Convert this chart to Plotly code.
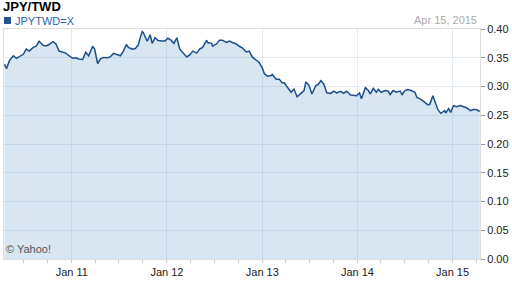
import pandas as pd
import plotly.graph_objects as go

# Decimal-year time stamps and JPY/TWD rate
t_years = [
    2010.292, 2010.313, 2010.344, 2010.385, 2010.417, 2010.448, 2010.490, 2010.521,
    2010.552, 2010.594, 2010.625, 2010.656, 2010.698, 2010.729, 2010.760, 2010.802,
    2010.833, 2010.865, 2010.906, 2010.938, 2010.969, 2011.010, 2011.042, 2011.073,
    2011.115, 2011.146, 2011.177, 2011.219, 2011.240, 2011.271, 2011.302, 2011.333,
    2011.375, 2011.406, 2011.438, 2011.479, 2011.510, 2011.542, 2011.573, 2011.594,
    2011.635, 2011.667, 2011.698, 2011.719, 2011.740, 2011.750, 2011.771, 2011.792,
    2011.823, 2011.844, 2011.875, 2011.906, 2011.948, 2011.979, 2012.010, 2012.042,
    2012.073, 2012.104, 2012.135, 2012.167, 2012.208, 2012.240, 2012.271, 2012.313,
    2012.344, 2012.375, 2012.417, 2012.427, 2012.469, 2012.479, 2012.521, 2012.552,
    2012.583, 2012.625, 2012.656, 2012.688, 2012.729, 2012.760, 2012.792, 2012.833,
    2012.865, 2012.896, 2012.938, 2012.969, 2013.000, 2013.021, 2013.052, 2013.094,
    2013.104, 2013.146, 2013.177, 2013.208, 2013.229, 2013.260, 2013.302, 2013.333,
    2013.365, 2013.406, 2013.438, 2013.458, 2013.490, 2013.521, 2013.563, 2013.583,
    2013.615, 2013.646, 2013.677, 2013.719, 2013.750, 2013.781, 2013.823, 2013.854,
    2013.885, 2013.927, 2013.958, 2013.990, 2014.021, 2014.042, 2014.083, 2014.115,
    2014.135, 2014.167, 2014.198, 2014.219, 2014.250, 2014.292, 2014.323, 2014.344,
    2014.375, 2014.406, 2014.448, 2014.469, 2014.500, 2014.531, 2014.563, 2014.604,
    2014.625, 2014.667, 2014.708, 2014.740, 2014.760, 2014.792, 2014.813, 2014.844,
    2014.875, 2014.917, 2014.927, 2014.958, 2014.979, 2015.010, 2015.042, 2015.083,
    2015.115, 2015.146, 2015.188, 2015.219, 2015.250, 2015.285,
]
rate = [
    0.3385, 0.3310, 0.3450, 0.3535, 0.3490, 0.3520, 0.3560, 0.3650,
    0.3616, 0.3680, 0.3700, 0.3786, 0.3718, 0.3704, 0.3730, 0.3780,
    0.3740, 0.3616, 0.3600, 0.3580, 0.3535, 0.3490, 0.3500, 0.3480,
    0.3470, 0.3597, 0.3535, 0.3700, 0.3650, 0.3400, 0.3480, 0.3506,
    0.3500, 0.3520, 0.3576, 0.3560, 0.3535, 0.3616, 0.3730, 0.3680,
    0.3650, 0.3660, 0.3720, 0.3850, 0.3955, 0.3940, 0.3850, 0.3786,
    0.3900, 0.3750, 0.3850, 0.3800, 0.3790, 0.3790, 0.3840, 0.3806,
    0.3750, 0.3847, 0.3650, 0.3597, 0.3514, 0.3550, 0.3616, 0.3580,
    0.3650, 0.3680, 0.3806, 0.3765, 0.3750, 0.3700, 0.3740, 0.3806,
    0.3806, 0.3765, 0.3790, 0.3765, 0.3740, 0.3700, 0.3670, 0.3600,
    0.3616, 0.3514, 0.3450, 0.3417, 0.3320, 0.3225, 0.3180, 0.3192,
    0.3210, 0.3128, 0.3128, 0.3064, 0.3064, 0.3000, 0.2900, 0.2955,
    0.2820, 0.2880, 0.2930, 0.3080, 0.3020, 0.2870, 0.3020, 0.3030,
    0.3100, 0.3045, 0.2890, 0.2880, 0.2920, 0.2890, 0.2917, 0.2880,
    0.2917, 0.2852, 0.2852, 0.2840, 0.2890, 0.2788, 0.2980, 0.2930,
    0.2870, 0.2967, 0.2900, 0.2948, 0.2900, 0.2930, 0.2917, 0.2860,
    0.2930, 0.2900, 0.2920, 0.2860, 0.2930, 0.2948, 0.2930, 0.2900,
    0.2808, 0.2775, 0.2725, 0.2680, 0.2690, 0.2840, 0.2744, 0.2600,
    0.2533, 0.2580, 0.2538, 0.2615, 0.2550, 0.2667, 0.2648, 0.2667,
    0.2648, 0.2630, 0.2580, 0.2600, 0.2600, 0.2564,
]

y_ticks = [0.00, 0.05, 0.10, 0.15, 0.20, 0.25, 0.30, 0.35, 0.40]


def to_date(y):
    year = int(y)
    start = pd.Timestamp(year=year, month=1, day=1)
    return start + pd.Timedelta(days=(y - year) * 365.25)


dates = [to_date(v) for v in t_years]

FONT = "Liberation Sans, Arial, sans-serif"

fig = go.Figure()
fig.add_trace(go.Scatter(
    x=dates, y=rate, mode="lines",
    line=dict(color="#1b4f8c", width=1.5),
    fill="tozeroy", fillcolor="rgba(110,165,205,0.28)",
    hoverinfo="skip", showlegend=False,
))

fig.update_layout(
    width=512, height=288,
    margin=dict(l=3, r=30, t=29, b=29),
    paper_bgcolor="white", plot_bgcolor="white",
    font=dict(family=FONT, size=11, color="#222"),
    xaxis=dict(
        type="date",
        range=[to_date(2010.287), to_date(2015.288)],
        tick0="2011-01-01", dtick="M12", tickformat="%b %y",
        ticks="outside", ticklen=3, tickcolor="#cccccc",
        showgrid=True, gridcolor="#e3eaf3", gridwidth=1,
        showline=True, linecolor="#dddddd", mirror=True,
        minor=dict(dtick="M3", tick0="2010-01-01", ticks="outside",
                   ticklen=3, tickcolor="#cccccc", showgrid=False),
        tickfont=dict(size=11, color="#222"),
        zeroline=False, fixedrange=True,
    ),
    yaxis=dict(
        side="right", range=[0, 0.40],
        tickvals=y_ticks, tickformat=".2f",
        ticks="outside", ticklen=4, tickcolor="#999999",
        showgrid=True, gridcolor="#e3eaf3", gridwidth=1,
        showline=True, linecolor="#dddddd", mirror=True,
        tickfont=dict(size=11, color="#222"),
        zeroline=False, fixedrange=True,
    ),
)

# legend swatch
fig.add_shape(type="rect", xref="paper", yref="paper",
              x0=0.0, x1=0.0146, y0=1.0217, y1=1.0522,
              line=dict(width=0), fillcolor="#1f5591")

fig.add_annotation(text="<b>JPY/TWD</b>", xref="paper", yref="paper",
                   x=-0.004, y=1.0957, xanchor="left", yanchor="middle",
                   showarrow=False, borderpad=0,
                   font=dict(size=13, color="#000", family=FONT))
fig.add_annotation(text="JPYTWD=X", xref="paper", yref="paper",
                   x=0.0209, y=1.0348, xanchor="left", yanchor="middle",
                   showarrow=False, borderpad=0,
                   font=dict(size=11, color="#2b63a6", family=FONT))
fig.add_annotation(text="Apr 15, 2015", xref="paper", yref="paper",
                   x=0.995, y=1.039, xanchor="right", yanchor="middle",
                   showarrow=False, borderpad=0,
                   font=dict(size=11, color="#aaaaaa", family=FONT))
fig.add_annotation(text="\u00A9 Yahoo!", xref="paper", yref="paper",
                   x=0.002, y=0.045, xanchor="left", yanchor="middle",
                   showarrow=False, borderpad=0,
                   font=dict(size=11, color="#555555", family=FONT))

fig.write_html("out.html")
